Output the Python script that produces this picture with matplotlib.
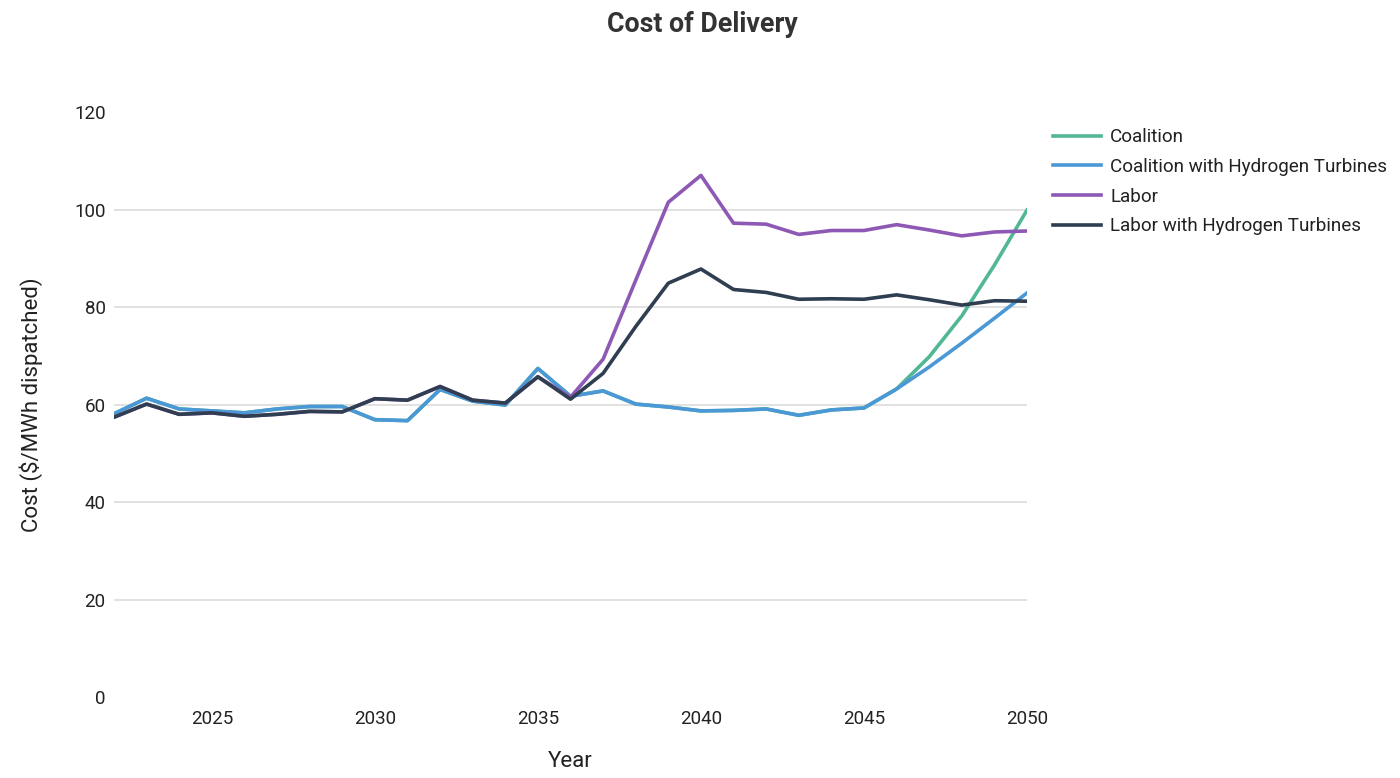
import matplotlib
matplotlib.use("Agg")
import matplotlib.pyplot as plt

plt.rcParams['font.family'] = ['Roboto', 'DejaVu Sans']

years = list(range(2022, 2051))

coalition_h2 = [58.1, 61.3, 59.1, 58.7, 58.3, 59.1, 59.6, 59.6, 56.9, 56.7,
                63.1, 60.7, 59.9, 67.4, 61.7, 62.8, 60.1, 59.5, 58.7, 58.8,
                59.1, 57.8, 58.9, 59.3, 63.2, 67.7, 72.6, 77.7, 82.9]
coalition = coalition_h2[:24] + [63.2, 69.8, 78.2, 88.6, 99.9]
labor_h2 = [57.4, 60.1, 58.0, 58.3, 57.6, 58.0, 58.6, 58.5, 61.2, 60.9,
            63.7, 60.9, 60.3, 65.7, 61.1, 66.4, 76.0, 84.9, 87.8, 83.6,
            83.0, 81.6, 81.7, 81.6, 82.5, 81.5, 80.4, 81.3, 81.2]
labor = labor_h2[:14] + [61.5, 69.3, 85.5, 101.5, 107.0, 97.2,
                         97.0, 94.9, 95.7, 95.7, 96.9, 95.8, 94.6, 95.4, 95.6]

series_names = ["Coalition", "Coalition with Hydrogen Turbines", "Labor",
                "Labor with Hydrogen Turbines"]
series_values = [coalition, coalition_h2, labor, labor_h2]
colors = ["#52b794", "#4a98d6", "#8e59b5", "#2f3e50"]

yticks = [0, 20, 40, 60, 80, 100, 120]
xticks = [2025, 2030, 2035, 2040, 2045, 2050]

fig = plt.figure(figsize=(14, 7.78), dpi=100)
ax = fig.add_axes([0.0814, 0.104, 0.6522, 0.752])

for name, vals, c in zip(series_names, series_values, colors):
    ax.plot(years, vals, color=c, lw=2.6, label=name, solid_joinstyle='round')

ax.set_xlim(2022, 2050)
ax.set_ylim(0, 120)
ax.set_yticks(yticks)
ax.set_xticks(xticks)
for y in yticks[1:-1]:
    ax.axhline(y, color="#dcdcdc", lw=1.2, zorder=0)
for s in ax.spines.values():
    s.set_visible(False)
ax.tick_params(axis='both', length=0, labelsize=13.5, colors="#222222")
ax.tick_params(axis='x', pad=9)
ax.tick_params(axis='y', pad=6)

ax.set_xlabel("Year", fontsize=16, color="#222222", labelpad=17)
ax.set_ylabel("Cost ($/MWh dispatched)", fontsize=16, color="#222222", labelpad=22)

fig.text(0.5015, 0.969, "Cost of Delivery", ha='center', va='center',
         fontsize=19.3, fontweight='bold', color="#333333")

leg = ax.legend(loc='upper left', bbox_to_anchor=(1.02, 0.985), frameon=False,
                fontsize=13.6, handlelength=2.55, handletextpad=0.48,
                labelspacing=0.62, borderaxespad=0)
for t in leg.get_texts():
    t.set_color("#222222")

fig.savefig("out.png", dpi=100)
